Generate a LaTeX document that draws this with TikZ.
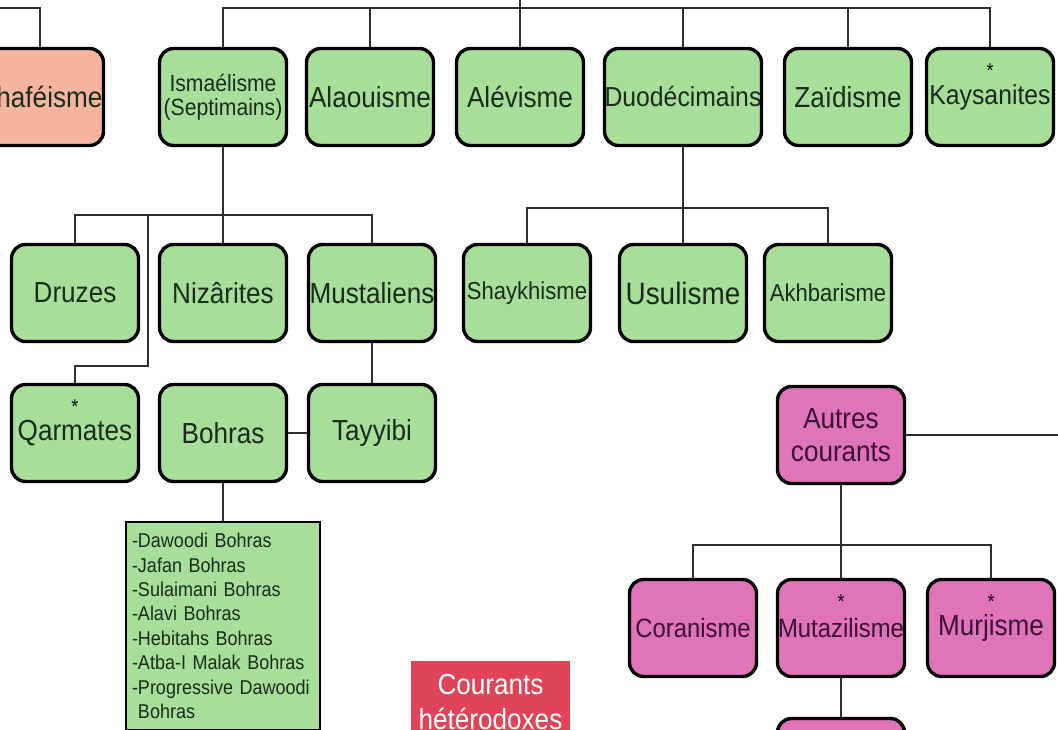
\documentclass[tikz,border=0pt]{standalone}
\usepackage{fontspec}
\setmainfont{Liberation Sans}[FakeStretch=0.9]
\usepackage{xcolor}
\usepackage{tikz}

\definecolor{vert}{HTML}{A6DE9A}
\definecolor{rose}{HTML}{E074B9}
\definecolor{saumon}{HTML}{F5B49E}
\definecolor{rouge}{HTML}{E04458}
\definecolor{trait}{HTML}{2E2E2E}
\definecolor{encreVert}{HTML}{1A2B1A}
\definecolor{encreRose}{HTML}{3B1030}

\newcommand{\fsz}[2]{\fontsize{#1}{#2}\selectfont}

\begin{document}
\begin{tikzpicture}[x=1pt, y=-1pt]

        \tikzset{
            bloc/.style={draw=black, line width=3.4pt, rounded corners=14pt, minimum width=127pt, minimum height=97pt, inner sep=0pt, align=center},
            chiite/.style={bloc, fill=vert, text=encreVert},
            autre/.style={bloc, fill=rose, text=encreRose},
            lien/.style={draw=trait, line width=1.9pt},
            etoile/.style={font=\fsz{20}{24}, inner sep=0pt}
        }

        \useasboundingbox (0,0) rectangle (1058,730);
        \clip (0,0) rectangle (1058,730);

        % Premiere rangee
        \node[bloc, fill=saumon, text=encreVert, font=\fsz{29}{34}] (chaf) at (40,97) {Chaféisme};
        \node[chiite, font=\fsz{23.5}{24}] (ism) at (223,97) {Ismaélisme\\(Septimains)};
        \foreach \nom/\x/\taille/\texte in {ala/370/29/Alaouisme, ale/520/29/Alévisme, zai/848/29/Zaïdisme, kay/990/27.5/Kaysanites}
            \node[chiite, font=\fsz{\taille}{34}] (\nom) at (\x,97) {\texte};
        \node[chiite, minimum width=157pt, font=\fsz{27.5}{34}] (duo) at (683,97) {Duodécimains};

        % Ismaeliens
        \foreach \nom/\x/\texte in {dru/75/Druzes, niz/223/Nizârites, mus/372/Mustaliens}
            \node[chiite, font=\fsz{29}{34}] (\nom) at (\x,293) {\texte};
        \foreach \nom/\x/\texte in {qar/75/Qarmates, boh/223/Bohras, tay/372/Tayyibi}
            \node[chiite, font=\fsz{29}{34}] (\nom) at (\x,433) {\texte};

        % Duodecimains
        \node[chiite, font=\fsz{24.5}{29}] (sha) at (527,293) {Shaykhisme};
        \node[chiite, font=\fsz{31}{36}] (usu) at (683,293) {Usulisme};
        \node[chiite, font=\fsz{24.5}{29}] (akh) at (828,293) {Akhbarisme};

        % Bohras
        \node[draw=black, line width=2.8pt, fill=vert, text=encreVert, minimum width=194pt, minimum height=208pt, text width=182pt, inner xsep=6pt, align=left, font=\fsz{20}{24.4}] (bohliste) at (223,626)
            {-Dawoodi Bohras\\-Jafan Bohras\\-Sulaimani Bohras\\-Alavi Bohras\\-Hebitahs Bohras\\-Atba-I Malak Bohras\\-Progressive Dawoodi\\\phantom{-}Bohras};

        % Autres courants
        \node[autre, font=\fsz{29}{33}] (aut) at (841,435) {Autres\\courants};
        \foreach \nom/\x/\taille/\texte in {cor/693/26.5/Coranisme, mut/841/26.5/Mutazilisme, mur/991/29/Murjisme}
            \node[autre, font=\fsz{\taille}{34}] (\nom) at (\x,628) {\texte};
        \node[autre] (mutbas) at (841,767) {};

        \node[fill=rouge, text=white, minimum width=159pt, minimum height=82pt, inner sep=0pt, align=center, font=\fsz{29}{35}] (hetero) at (490.5,702) {Courants\\hétérodoxes};

        % Etoiles
        \foreach \nom in {kay, qar, mut, mur}
            \node[etoile, text=black] (\nom etoile) at ([yshift=26pt]\nom.center) {*};

        % Liens
        \coordinate (racine) at (520,-10);
        \coordinate (bus0) at (-30,8);
        \coordinate (bus1) at (0,8);
        \draw[lien] (chaf.north) |- (bus0);
        \draw[lien] (racine) -- (ale.north);
        \draw[lien] (ism.north) |- (kay.north |- bus1) -- (kay.north);
        \foreach \nom in {ala, duo, zai}
            \draw[lien] (\nom.north) -- (\nom.north |- bus1);

        \coordinate (bus2) at (0,215);
        \coordinate (qarcoude) at (148,215);
        \coordinate (qarbas) at (0,366);
        \draw[lien] (ism.south) -- (niz.north);
        \draw[lien] (dru.north) |- (mus.north |- bus2) -- (mus.north);
        \draw[lien] (qarcoude) |- (qar.north |- qarbas) -- (qar.north);
        \draw[lien] (mus.south) -- (tay.north);
        \draw[lien] (boh.east) -- (tay.west);
        \draw[lien] (boh.south) -- (bohliste.north);

        \coordinate (bus3) at (0,208);
        \draw[lien] (duo.south) -- (usu.north);
        \draw[lien] (sha.north) |- (akh.north |- bus3) -- (akh.north);

        \coordinate (droite) at (1070,431);
        \coordinate (bus4) at (0,545);
        \draw[lien] (aut.east) -- (aut.east -| droite);
        \draw[lien] (aut.south) -- (mut.north);
        \draw[lien] (cor.north) |- (mur.north |- bus4) -- (mur.north);
        \draw[lien] (mut.south) -- (mutbas.north);

\end{tikzpicture}
\end{document}
